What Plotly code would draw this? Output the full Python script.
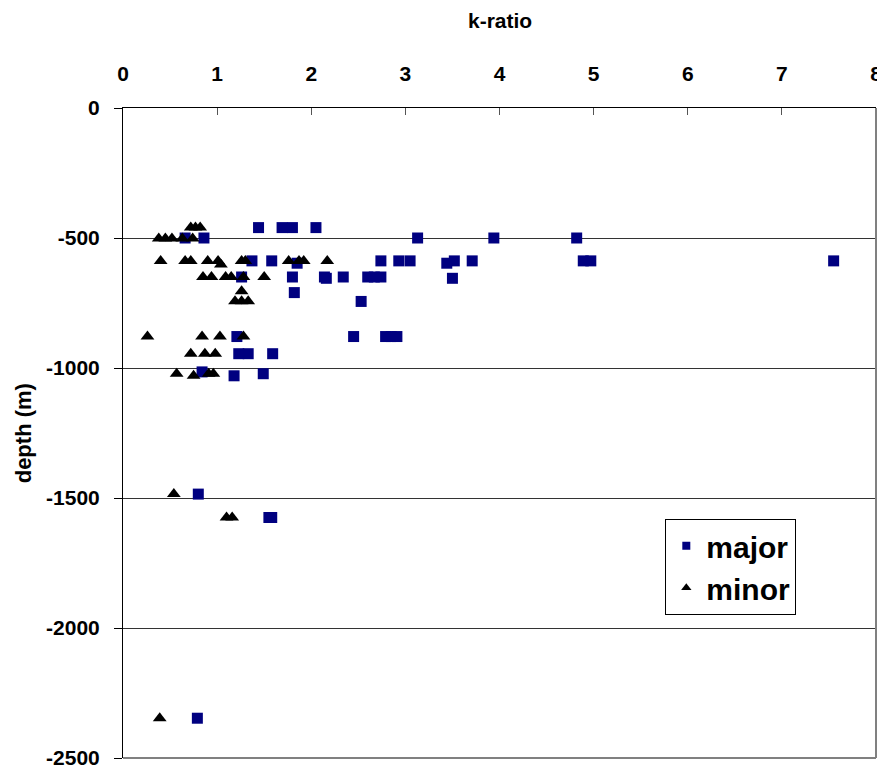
import plotly.graph_objects as go

# ---- data (k-ratio vs depth) ----
major_k = [1.44, 1.69, 1.80, 2.05,
           0.66, 0.86, 3.13, 3.94, 4.82,
           1.37, 1.58, 2.74, 2.93, 3.05, 3.52, 3.71, 4.89, 4.97, 7.55,
           1.85, 3.44,
           1.26, 1.80, 2.14, 2.34, 2.60, 2.67, 2.74,
           2.16, 3.50,
           1.82,
           2.53,
           1.21, 2.45, 2.79, 2.85, 2.91,
           1.23, 1.33, 1.59,
           0.84, 1.18, 1.49,
           0.80,
           1.55, 1.58,
           0.79]
major_depth = [-460, -460, -460, -460,
               -500, -500, -500, -500, -500,
               -588, -588, -588, -588, -588, -588, -588, -588, -588, -588,
               -597, -597,
               -650, -650, -650, -650, -650, -650, -650,
               -655, -655,
               -710,
               -744,
               -879, -879, -879, -879, -879,
               -945, -945, -945,
               -1015, -1030, -1022,
               -1485,
               -1575, -1575,
               -2347]

minor_k = [0.72, 0.77, 0.82,
           0.38, 0.45, 0.52, 0.63, 0.74,
           0.40, 0.66, 0.72, 0.90, 1.01, 1.26, 1.30, 1.76, 1.87, 1.92, 2.17,
           1.04,
           0.85, 0.94, 1.09, 1.15, 1.28, 1.50,
           1.26,
           1.19, 1.26, 1.33,
           0.26, 0.84, 1.03, 1.28,
           0.72, 0.87, 0.98,
           0.57, 0.91, 0.96,
           0.75,
           0.54,
           1.10, 1.16,
           0.39]
minor_depth = [-460, -460, -460,
               -502, -502, -502, -502, -502,
               -588, -588, -588, -588, -588, -588, -588, -588, -588, -588, -588,
               -602,
               -650, -650, -650, -650, -650, -650,
               -705,
               -743, -743, -743,
               -879, -879, -879, -879,
               -945, -945, -945,
               -1022, -1022, -1022,
               -1030,
               -1485,
               -1575, -1575,
               -2347]

x_ticks = [0, 1, 2, 3, 4, 5, 6, 7, 8]
y_ticks = [0, -500, -1000, -1500, -2000, -2500]
series_names = ["major", "minor"]

FONT = "Liberation Sans, Arial, sans-serif"
NAVY = "#000080"

fig = go.Figure()
fig.add_trace(go.Scatter(x=major_k, y=major_depth, mode="markers",
                         marker=dict(symbol="square", size=11, color=NAVY),
                         showlegend=False, cliponaxis=False))
fig.add_trace(go.Scatter(x=minor_k, y=minor_depth, mode="markers",
                         marker=dict(symbol="triangle-up", size=12, color="black"),
                         showlegend=False, cliponaxis=False))
# legend entries (smaller symbols, as in the original legend)
fig.add_trace(go.Scatter(x=[None], y=[None], mode="markers", name=series_names[0],
                         marker=dict(symbol="square", size=8, color=NAVY)))
fig.add_trace(go.Scatter(x=[None], y=[None], mode="markers", name=series_names[1],
                         marker=dict(symbol="triangle-up", size=9, color="black")))

fig.update_layout(
    width=877, height=761,
    margin=dict(l=115, r=9, t=100, b=11),
    paper_bgcolor="white", plot_bgcolor="white",
    font=dict(family=FONT, color="black"),
    legend=dict(x=0.7202, y=0.368, xanchor="left", yanchor="top",
                bgcolor="white", bordercolor="black", borderwidth=1,
                font=dict(size=30, family=FONT, weight="bold"),
                tracegroupgap=0, itemwidth=30),
    xaxis=dict(side="top", range=[0, 8], tickvals=x_ticks,
               ticktext=[str(v) for v in x_ticks],
               ticks="inside", ticklen=7, tickcolor="#555",
               showline=True, linecolor="black", linewidth=1,
               showgrid=False, zeroline=False, automargin=False,
               ticklabeloverflow="allow",
               tickfont=dict(size=21, family=FONT, weight="bold"),
               ticklabelstandoff=18),
    yaxis=dict(range=[-2500, 0], tickvals=y_ticks,
               ticktext=[str(v) for v in y_ticks],
               ticks="outside", ticklen=8, tickcolor="black",
               showline=True, linecolor="black", linewidth=1,
               showgrid=True, gridcolor="#333", gridwidth=1,
               zeroline=False, automargin=False,
               ticklabeloverflow="allow",
               tickfont=dict(size=21, family=FONT, weight="bold"),
               ticklabelstandoff=10),
    annotations=[
        dict(text="k-ratio", xref="paper", yref="paper", x=0.5, y=1.1538,
             xanchor="center", yanchor="top", showarrow=False, borderpad=0,
             font=dict(size=21, family=FONT, weight="bold")),
        dict(text="depth (m)", xref="paper", yref="paper", x=-0.1324, y=0.5,
             xanchor="center", yanchor="middle", textangle=-90, showarrow=False,
             font=dict(size=22, family=FONT, weight="bold")),
    ],
    shapes=[
        dict(type="line", xref="paper", yref="paper", x0=1, x1=1, y0=0, y1=1,
             line=dict(color="#808080", width=2), layer="above"),
        dict(type="line", xref="paper", yref="paper", x0=0, x1=1, y0=0, y1=0,
             line=dict(color="#808080", width=2), layer="above"),
    ],
)

fig.write_html("out.html")
